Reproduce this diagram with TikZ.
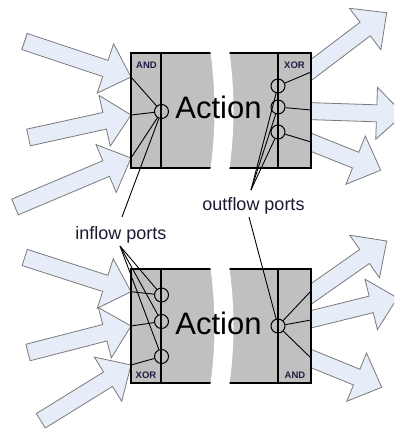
\documentclass[tikz,border=0pt]{standalone}
\usepackage{fontspec}
\setmainfont{Liberation Sans}
\usetikzlibrary{calc}
\definecolor{arrfill}{HTML}{E6EDF8}
\definecolor{arrline}{HTML}{7A7A7A}
\definecolor{boxfill}{HTML}{C0C0C0}
\definecolor{gatetxt}{HTML}{1E1E46}
\definecolor{labtxt}{HTML}{1A1A2E}
\newcommand\blockarr[3]{%
  \coordinate (#1t) at #2;
  \coordinate (#1p) at #3;
  \coordinate (#1n) at ($(#1p)!27pt!(#1t)$);
  \filldraw[blockarrow] ($(#1t)!8.5pt!90:(#1p)$) -- ($(#1n)!8.5pt!90:(#1p)$) -- ($(#1n)!26pt!90:(#1p)$) -- (#1p) -- ($(#1n)!26pt!-90:(#1p)$) -- ($(#1n)!8.5pt!-90:(#1p)$) -- ($(#1t)!8.5pt!-90:(#1p)$) -- cycle;}
\begin{document}
\begin{tikzpicture}[x=1pt,y=-1pt,
  blockarrow/.style={fill=arrfill,draw=arrline,line width=0.8pt,line join=miter},
  actionbox/.style={fill=boxfill,draw=black,line width=2pt},
  divider/.style={draw=black,line width=1.8pt},
  portline/.style={draw=black,line width=0.9pt},
  port/.style={circle,draw=black,line width=1pt,minimum size=14pt,inner sep=0pt},
  gatelabel/.style={font=\bfseries\fontsize{9.5}{10}\selectfont,text=gatetxt,inner sep=0pt,anchor=base},
  actlabel/.style={font=\fontsize{31}{32}\selectfont,inner sep=0pt,anchor=base},
  portlabel/.style={font=\fontsize{18}{20}\selectfont,text=labtxt,inner sep=0pt,anchor=base},
  gapfill/.style={fill=white,draw=none}]
\useasboundingbox (0,0) rectangle (394,428);
\clip (0,0) rectangle (394,428);
\fill[white] (0,0) rectangle (394,428);

% inflow arrows (top)
\blockarr{a1}{(24.5,41.5)}{(131,77)}
\blockarr{a2}{(28.5,137.5)}{(131,115)}
\blockarr{a3}{(15,207)}{(131,158)}
% outflow arrows (top)
\blockarr{a4}{(300,78.4)}{(386.7,12.7)}
\blockarr{a5}{(300,110.8)}{(403.6,114.2)}
\blockarr{a6}{(300,137.9)}{(380.7,170.2)}
% inflow arrows (bottom)
\blockarr{a10}{(24.7,257.5)}{(131,291.7)}
\blockarr{a11}{(28,352.5)}{(131,326)}
\blockarr{a12}{(40.8,420.8)}{(131,365)}
% outflow arrows (bottom)
\blockarr{a7}{(300,301.7)}{(386.7,241)}
\blockarr{a8}{(300,322)}{(397.4,297.9)}
\blockarr{a9}{(300,354)}{(381.7,387.3)}

% boxes
\draw[actionbox] (131,53) rectangle (311,168);
\draw[actionbox] (131,269) rectangle (311,383);
\fill[gapfill] (210,49) .. controls (216,90) and (216,131) .. (210,172) -- (229,172) .. controls (235,131) and (235,90) .. (229,49) -- cycle;
\fill[gapfill] (210,265) .. controls (216,306) and (216,347) .. (210,387) -- (229,387) .. controls (235,347) and (235,306) .. (229,265) -- cycle;
\draw[divider] (161,53) -- (161,168);
\draw[divider] (278,53) -- (278,168);
\draw[divider] (161,269) -- (161,383);
\draw[divider] (278,269) -- (278,383);

% gate labels
\node[gatelabel] (g1) at (146.5,68.5) {AND};
\node[gatelabel] (g2) at (294.5,68.5) {XOR};
\node[gatelabel] (g3) at (146,378.5) {XOR};
\node[gatelabel] (g4) at (295,378.5) {AND};

% action labels
\node[actlabel] (act1) at (218.5,118) {Action};
\node[actlabel] (act2) at (218.5,334) {Action};

% ports
\node[port] (tl) at (161.5,111.5) {};
\node[port] (tr1) at (278,86) {};
\node[port] (tr2) at (278,107) {};
\node[port] (tr3) at (278,132) {};
\node[port] (bl1) at (161.5,295) {};
\node[port] (bl2) at (161.5,321.5) {};
\node[port] (bl3) at (161.5,356.5) {};
\node[port] (br) at (278,326) {};

% edge points
\coordinate (er1) at (311,72);
\coordinate (er2) at (311,110);
\coordinate (er3) at (311,142);
\coordinate (eb1) at (311,291);
\coordinate (eb2) at (311,320);
\coordinate (eb3) at (311,358);

% port lines
\draw[portline] (a1p) -- (tl);
\draw[portline] (a2p) -- (tl);
\draw[portline] (a3p) -- (tl);
\draw[portline] (tr1) -- (er1);
\draw[portline] (tr2) -- (er2);
\draw[portline] (tr3) -- (er3);
\draw[portline] (a10p) -- (bl1);
\draw[portline] (a11p) -- (bl2);
\draw[portline] (a12p) -- (bl3);
\draw[portline] (br) -- (eb1);
\draw[portline] (br) -- (eb2);
\draw[portline] (br) -- (eb3);

% port labels and pointers
\node[portlabel] (inlab) at (121,239) {inflow ports};
\node[portlabel] (outlab) at (253.5,210) {outflow ports};
\coordinate (inup) at (122,217);
\coordinate (indn) at (120,246);
\coordinate (outup) at (251,190);
\coordinate (outdn) at (249,217);
\draw[portline] (inup) -- (tl);
\draw[portline] (indn) -- (bl1);
\draw[portline] (indn) -- (bl2);
\draw[portline] (indn) -- (bl3);
\draw[portline] (outup) -- (tr1);
\draw[portline] (outup) -- (tr2);
\draw[portline] (outup) -- (tr3);
\draw[portline] (outdn) -- (br);
\end{tikzpicture}
\end{document}
